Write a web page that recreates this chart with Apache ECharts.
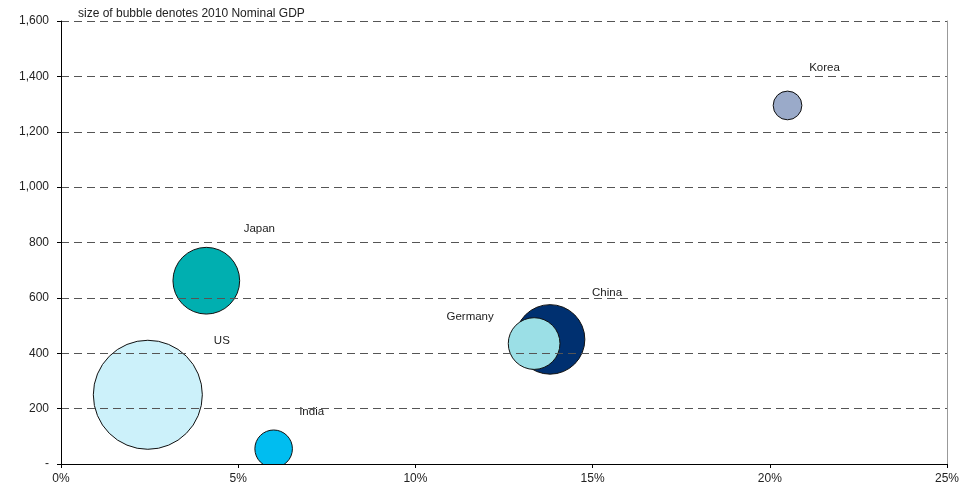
<!DOCTYPE html>
<html>
<head>
<meta charset="utf-8">
<script src="https://cdn.jsdelivr.net/npm/echarts@6/dist/echarts.min.js"></script>
<style>
  html, body { margin: 0; padding: 0; background: #fff; }
  #chart { width: 973px; height: 487px; }
</style>
</head>
<body>
<div id="chart"></div>
<script>
// Countries plotted as bubbles
const countries = ['Korea', 'China', 'Germany', 'Japan', 'US', 'India'];
// Horizontal value, in percent
const xValues = [20.5, 13.8, 13.35, 4.1, 2.45, 6.0];
// Vertical value
const yValues = [1295, 450, 435, 662, 250, 55];
// 2010 nominal GDP, USD trillions (drives bubble area)
const gdp2010 = [1.01, 5.93, 3.28, 5.46, 14.58, 1.73];

// Axis ticks
const xTicks = [0, 5, 10, 15, 20, 25];
const yTicks = [0, 200, 400, 600, 800, 1000, 1200, 1400, 1600];

// Styling per country
const bubbleColors = {
  Korea: '#9AAAC9', China: '#003070', Germany: '#9BDFE6',
  Japan: '#00AFB0', US: '#CCF1FA', India: '#00BDF0'
};
const labelOffsets = {
  Korea: [37, -38], China: [57, -47], Germany: [-64, -27],
  Japan: [53, -52], US: [74, -54], India: [38, -37]
};

const FONT = '"Liberation Sans", Arial, sans-serif';
const sizeScale = 28.55; // diameter px per sqrt(trillion USD)

const chart = echarts.init(document.getElementById('chart'), null, { renderer: 'canvas' });

const seriesData = countries.map((name, i) => ({
  name: name,
  value: [xValues[i], yValues[i], gdp2010[i]],
  itemStyle: { color: bubbleColors[name] },
  label: { offset: labelOffsets[name] }
}));

const option = {
  animation: false,
  backgroundColor: '#fff',
  grid: { left: 61, right: 26, top: 21, bottom: 23 },
  title: {
    text: 'size of bubble denotes 2010 Nominal GDP',
    left: 73, top: 3,
    textStyle: { fontFamily: FONT, fontSize: 12, fontWeight: 'normal', color: '#222' }
  },
  xAxis: {
    type: 'value',
    min: xTicks[0], max: xTicks[xTicks.length - 1], interval: xTicks[1] - xTicks[0],
    z: 10,
    axisLine: { show: true, lineStyle: { color: '#000', width: 1 } },
    axisTick: { show: true, length: 4, lineStyle: { color: '#000' } },
    splitLine: { show: false },
    axisLabel: {
      fontFamily: FONT, fontSize: 12, color: '#222', margin: 9,
      formatter: v => v + '%'
    }
  },
  yAxis: [{
    type: 'value',
    min: yTicks[0], max: yTicks[yTicks.length - 1], interval: yTicks[1] - yTicks[0],
    z: 10,
    axisLine: { show: true, lineStyle: { color: '#000', width: 1 } },
    axisTick: { show: true, length: 4, lineStyle: { color: '#000' } },
    splitLine: { show: true, lineStyle: { color: '#555', type: [8, 5], width: 1 } },
    axisLabel: {
      fontFamily: FONT, fontSize: 12, color: '#222', margin: 12,
      formatter: v => v === 0 ? '-' : v.toLocaleString('en-US')
    }
  }, {
    type: 'value',
    position: 'right',
    min: yTicks[0], max: yTicks[yTicks.length - 1], interval: yTicks[1] - yTicks[0],
    axisLine: { show: true, lineStyle: { color: '#999', width: 1 } },
    axisTick: { show: false },
    axisLabel: { show: false },
    splitLine: { show: false }
  }],
  series: [{
    type: 'scatter',
    data: seriesData,
    symbol: 'circle',
    symbolSize: v => sizeScale * Math.sqrt(v[2]),
    itemStyle: { borderColor: '#111', borderWidth: 1, opacity: 1 },
    label: {
      show: true,
      position: 'inside',
      formatter: p => p.name,
      fontFamily: FONT, fontSize: 11.5, color: '#222'
    },
    emphasis: { disabled: true }
  }]
};

chart.setOption(option);

// White mask below the x-axis so bubbles are cut off at the plot floor
const floorY = chart.convertToPixel({ yAxisIndex: 0 }, yTicks[0]);
chart.setOption({
  graphic: [{
    type: 'rect',
    z: 5,
    shape: { x: 0, y: floorY + 0.5, width: 973, height: 487 - floorY },
    style: { fill: '#fff' },
    silent: true
  }]
});
</script>
</body>
</html>
